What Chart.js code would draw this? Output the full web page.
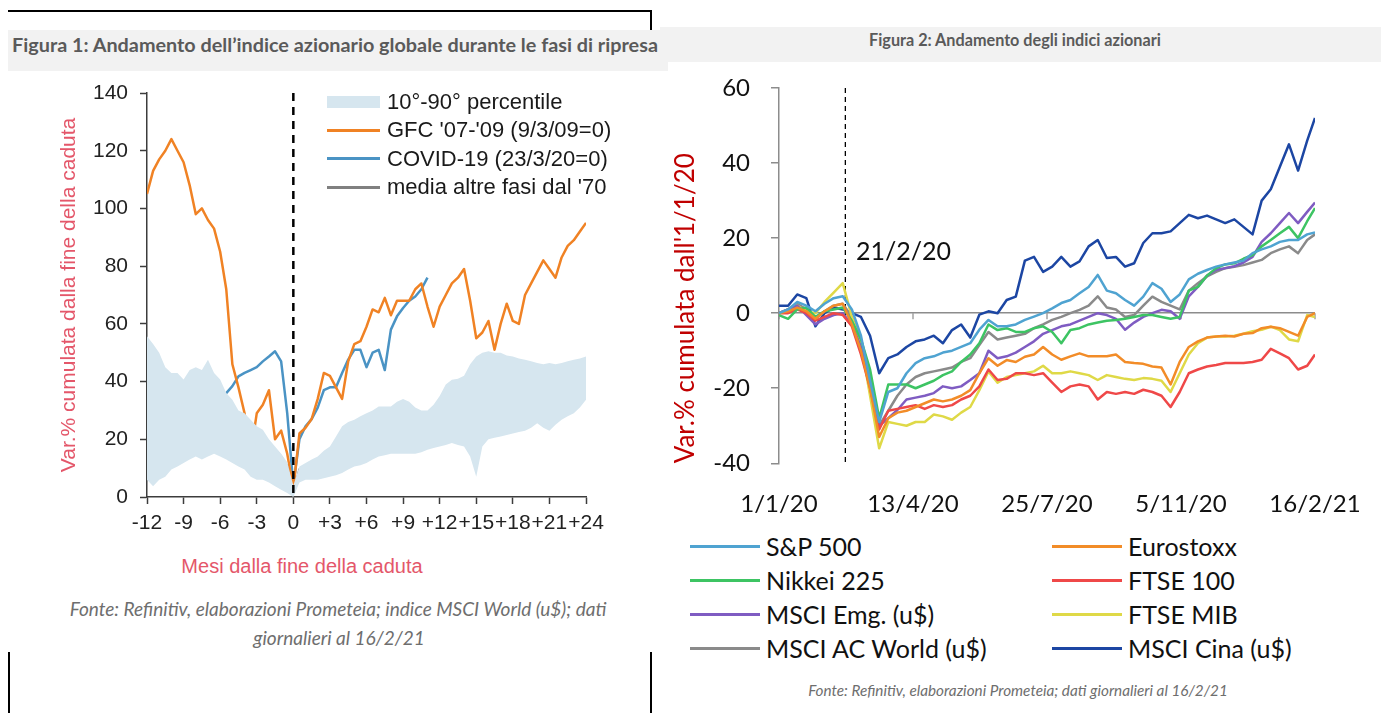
<!DOCTYPE html>
<html lang="it">
<head>
<meta charset="utf-8">
<title>Indici azionari</title>
<script src="https://cdn.jsdelivr.net/npm/chart.js@4.4.1/dist/chart.umd.min.js"></script>
<style>
  html, body { margin: 0; padding: 0; background: #fff; }
  body { width: 1381px; height: 713px; position: relative; overflow: hidden; font-family: 'Liberation Sans', Arial, sans-serif; }
  canvas { position: absolute; }
  .rule { position: absolute; background: #000; }
  .box { position: absolute; background: #f2f2f2; }
  .ctext { position: absolute; white-space: nowrap; transform: translate(-50%, -50%); }
  .ftitle { font-family: Lato, sans-serif; font-weight: 700; color: #5a5a5a; }
  .foot { font-family: Lato, sans-serif; font-style: italic; color: #6e6e6e; }
  .leg { position: absolute; display: flex; align-items: center; white-space: nowrap; transform: translateY(-50%); }
  .leg i { display: inline-block; flex: none; }
  #leftLegend .leg { font-family: 'Liberation Sans', Arial, sans-serif; font-size: 22px; color: #1a1a1a; }
  #rightLegend .leg { font-family: Lato, sans-serif; font-size: 25px; color: #111; }
</style>
</head>
<body>

<div class="rule" style="left:8px;top:10px;width:644px;height:2px"></div>
<div class="rule" style="left:650px;top:10px;width:2px;height:21px"></div>
<div class="rule" style="left:8px;top:652px;width:2px;height:61px"></div>
<div class="rule" style="left:650px;top:652px;width:2px;height:61px"></div>

<div class="box" style="left:660px;top:27px;width:721px;height:35px"></div>
<div class="box" style="left:8px;top:30px;width:660px;height:41px"></div>

<div id="title1" class="ctext ftitle" style="left:335px;top:44px;font-size:16px">Figura 1: Andamento dell’indice azionario globale durante le fasi di ripresa</div>
<div id="title2" class="ctext ftitle" style="left:1015px;top:39px;font-size:12px">Figura 2: Andamento degli indici azionari</div>

<canvas id="chart1" width="606" height="460" style="left:0;top:80px"></canvas>
<canvas id="chart2" width="700" height="460" style="left:660px;top:70px"></canvas>

<div id="leftLegend"></div>
<div id="rightLegend"></div>

<div class="ctext" style="left:302px;top:566px;font-size:20px;color:#e4576a">Mesi dalla fine della caduta</div>
<div class="ctext" style="left:856px;top:250px;transform:translate(0,-50%);font-family:Lato,sans-serif;font-size:25px;color:#111">21/2/20</div>

<div id="foot1a" class="ctext foot" style="left:338px;top:608px;font-size:15px">Fonte: Refinitiv, elaborazioni Prometeia; indice MSCI World (u$); dati</div>
<div id="foot1b" class="ctext foot" style="left:339px;top:637px;font-size:15px">giornalieri al 16/2/21</div>
<div id="foot2" class="ctext foot" style="left:1018px;top:690px;font-size:12px">Fonte: Refinitiv, elaborazioni Prometeia; dati giornalieri al 16/2/21</div>

<script>
// ---- Figura 1: mesi dalla fine della caduta ----
const months = [-12,-11.5,-11,-10.5,-10,-9.5,-9,-8.5,-8,-7.5,-7,-6.5,-6,-5.5,-5,-4.5,-4,-3.5,-3,-2.5,-2,-1.5,-1,-0.5,0,
  0.5,1,1.5,2,2.5,3,3.5,4,4.5,5,5.5,6,6.5,7,7.5,8,8.5,9,9.5,10,10.5,11,11.5,12,
  12.5,13,13.5,14,14.5,15,15.5,16,16.5,17,17.5,18,18.5,19,19.5,20,20.5,21,21.5,22,22.5,23,23.5,24];

const gfc = [105,113,117,120,124,120,116,108,98,100,96,93,85,72,46,38,29,15,29,32,37,20,23,15,3,
  22,24,27,34,43,42,38,34,47,53,54,59,65,64,69,63,68,68,68,72,74,66,59,66,
  70,74,76,79,68,55,57,61,51,60,67,61,60,70,74,78,82,79,76,83,87,89,92,95];

const covid = [34,35,35.5,32.6,29,35,37,38,35.5,30,34,36,34,36,38.4,41.8,43,44,45,47,48.7,50.5,47,29,4,
  20,24.5,27,31,37,38,38,43,47.6,51,51,45,50,51,44,58,62.6,65.5,68,69.5,72,76,null,null,
  null,null,null,null,null,null,null,null,null,null,null,null,null,null,null,null,null,null,null,null,null,null,null,null];

const media = [28,27.4,24.5,24.5,26.8,25.6,25,26.8,28,26.8,25.6,24.5,25,24.5,25.6,24.5,23.3,21.6,20.4,19.3,18,16.4,14,10.6,1.4,
  9.5,10,10.6,10.6,10.6,11.8,13,15,17,18.7,20,20.4,21.6,22,22.8,23.3,22.8,22.8,22,22,22.8,22,24,25.5,
  28,30,31,31,28.5,27,31,33,34,33,34,34,34.5,34,34.5,35,36.6,37,37,38,36.6,38,39,43];

const bandHigh = [55.7,53,50,45,43,43,40.7,44,45,44,47.6,43,40.7,36,33.7,30,29,26.8,24.5,23.3,20,17.5,15,12,4,
  10.6,11.8,13,14,16,17.5,21,24.5,26,26.8,28,29,30,31.4,31.4,31.4,33,34,33,31,30,30,32,35,
  39,40.6,41,42,46,48.7,50,50.5,50,50,49,48.7,48,47.6,47,46.4,46,46.4,46,46.4,47,47.6,48,48.7];

const bandLow = [6,3.7,6,7,9.5,10.6,11.8,13,14,13,14,15,14,13,11.8,10.6,9.5,7,6,6,5,3.7,2.5,1.4,0,
  5,6,6,6,6.5,7,7.5,8.3,9.5,10.6,11,11.8,13,14,14.5,15,15,15,15,15,15.5,16.4,17,17.5,
  18,18.7,18,17.5,14,7,17.5,20,20.5,21,21.5,22,22.5,23,24,25.6,24,23,25,26.8,28,29,31,33.7];

const leftLabels = ['10°-90° percentile', "GFC '07-'09 (9/3/09=0)", 'COVID-19 (23/3/20=0)', "media altre fasi dal '70"];
const leftColors = ['#d6e6ef', '#f08224', '#4a93c4', '#808080'];

// ---- Figura 2: giorni dall'1/1/20 ----
const days = [0,7,14,21,28,35,42,49,56,63,70,77,84,91,98,105,112,119,126,133,140,147,154,161,168,175,182,189,196,203,
  210,217,224,231,238,245,252,259,266,273,280,287,294,301,308,315,322,329,336,343,350,357,364,371,378,385,392,399,406,412];
const dateTickDays = [0, 103, 206, 309, 412];
const dateTickLabels = ['1/1/20', '13/4/20', '25/7/20', '5/11/20', '16/2/21'];
const markerDay = 51; // 21/2/20

const sp500 = [0,1,3,2,0.5,2.5,4,4.5,1,-6, -18,-29,-21,-20,-16,-13.3,-12,-11.5,-10.5,-10,
  -9,-8,-4.4,-1.8,-3.5,-3.5,-3,-1.8,-0.9,0, 1.3,2.7,3.5,5.3,7,10.2,6,5.3,3.5,2,
  4.4,8,6.5,3,5,9,10.5,11.5,12.4,13, 13.5,14,16,17,17.8,19,19.5,19.5,21,21.5];
const nikkei = [-0.5,-1.5,1,1.5,-1,0.5,1,1.5,-2,-7, -15,-28,-19,-19,-19,-20,-19,-18,-16.5,-15.5,
  -13,-11,-8,-3,-4.5,-4,-5,-5,-4,-3.5, -5,-8,-4.5,-4,-3,-2.5,-2,-1.8,-1.5,-1,
  -0.5,-0.5,-1,-1.5,-1,6,7,10,12,13, 13.3,14.5,15.5,17.8,19.5,21.3,23,20,24.5,28];
const msciEm = [0,1,2,-0.5,-3,-1.5,-0.5,0,-3,-9, -18,-30,-28,-25.8,-23,-22.5,-22,-21.3,-19.5,-20,
  -19.5,-17.8,-16,-10,-12,-11.5,-10.5,-9,-7.5,-5.5, -4.5,-3.5,-3,-2,-1,0,-0.5,-1.5,-4.4,-2.5,
  -1,0,0.9,0.5,-1.5,4.5,7,10,11.6,12, 12.5,13.5,15,19,21.3,24,26.7,24,27,29.5];
const msciAcwi = [0,1,2.5,1,-1.5,0.5,2,2.5,-1,-7, -17,-30,-26,-22,-19,-17,-16,-15.5,-15,-14.5,
  -13,-12,-8.5,-5,-7,-6.5,-6,-5.5,-4,-3, -1.8,-1,0,0.9,2,4.5,1.5,1,-1,-0.5,
  2,4.4,3,2,1,6,8,9.8,11,12, 12.4,12.8,13.5,14.2,16,17,17.8,16,19.5,21];
const eurostoxx = [0,0.5,1.5,0.5,-1.5,0.5,2,2.5,-3,-10, -20,-33,-28,-26.5,-26,-25,-24,-23,-23.5,-23,
  -22,-20.5,-16,-12,-14,-12.5,-13,-11.6,-11,-9, -11,-12.4,-11.5,-10.7,-11.5,-11.5,-11.5,-11,-13,-13.3,
  -13.5,-14.2,-14.5,-19,-13,-9,-7.5,-6.5,-6.2,-6, -6.2,-5.5,-5.3,-4,-3.6,-4,-5,-6,-1,0];
const ftse100 = [0,0,1,0,-2,-1,0,-0.5,-3.5,-11, -20,-31,-26,-25.5,-25,-24.5,-25.5,-24.5,-25,-24.5,
  -23,-22,-19.5,-15,-17.8,-17.5,-16,-16,-16.5,-16, -18.5,-21,-19.5,-19,-19.5,-23,-21,-21.5,-21,-21.5,
  -20.4,-21,-22,-25,-21,-16,-15,-14.2,-13.8,-13.3, -13.3,-13.3,-13,-12.4,-9.5,-10.7,-12,-15,-14,-11];
const ftseMib = [0,1,2,0.5,0,3,5.5,8,-1,-8, -22,-36,-29,-29.5,-30,-29,-29,-27,-27.5,-28.4,
  -26.5,-25,-20.5,-15.5,-18.5,-17,-16.5,-16,-15.5,-14, -16,-16,-15.5,-16,-16.5,-17.8,-16.5,-17,-17.5,-17.8,
  -17.3,-17.5,-18,-21,-16,-11,-8,-6.5,-6.2,-6.2, -6,-5.5,-4.8,-4.4,-3.6,-4.5,-7,-7.5,-0.5,-1];
const msciChina = [2,2,5,4,-3.5,0,1.5,1,0,-1, -6,-16,-12,-11,-9,-7.5,-7,-6,-8,-4.5,
  -3,-6.5,-0.4,0.5,0,3.5,4.4,14,15,11, 12.4,15,12.4,13.8,17.8,19.5,14.7,15,12.4,13.3,
  18.7,21.3,21.3,21.8,24,26.2,25.3,26,25,24, 25,23,21,30,33,39,45,38,46,52];

const rightNames = ['S&P 500', 'Eurostoxx', 'Nikkei 225', 'FTSE 100', 'MSCI Emg. (u$)', 'FTSE MIB', 'MSCI AC World (u$)', 'MSCI Cina (u$)'];
const rightSeries = [sp500, eurostoxx, nikkei, ftse100, msciEm, ftseMib, msciAcwi, msciChina];
const rightColors = ['#4fa3d1', '#f28c28', '#3dc463', '#ef4848', '#7f5cc2', '#dfd947', '#8a8a8a', '#1c46a3'];

// linea tratteggiata verticale su un valore dell'asse x
function markerLine(id, value, width, dash, when) {
  const draw = function (chart) {
    const { ctx, chartArea, scales } = chart;
    const x = scales.x.getPixelForValue(value);
    ctx.save();
    ctx.strokeStyle = '#000';
    ctx.lineWidth = width;
    ctx.setLineDash(dash);
    ctx.beginPath();
    ctx.moveTo(x, chartArea.top);
    ctx.lineTo(x, chartArea.bottom);
    ctx.stroke();
    ctx.restore();
  };
  const p = { id: id };
  p[when] = draw;
  return p;
}

// tacche dell'asse x sulla linea dello zero (stile Excel)
const zeroTicks = {
  id: 'zeroTicks',
  beforeDatasetsDraw(chart) {
    const { ctx, scales } = chart;
    const y0 = scales.y.getPixelForValue(0);
    ctx.save();
    ctx.strokeStyle = '#8c8c8c';
    ctx.lineWidth = 1.2;
    scales.x.ticks.forEach(t => {
      const x = scales.x.getPixelForValue(t.value);
      ctx.beginPath();
      ctx.moveTo(x, y0);
      ctx.lineTo(x, y0 + 6);
      ctx.stroke();
    });
    ctx.restore();
  }
};

// larghezze fisse degli assi, senza il margine extra per le etichette
const fitY = w => s => { s.width = w; s.paddingTop = 0; s.paddingBottom = 0; };
const fitX = h => s => { s.height = h; s.paddingLeft = 0; s.paddingRight = 0; };

const pts = (xs, ys) => xs.map((x, i) => ({ x: x, y: ys[i] }));

const chart1 = new Chart(document.getElementById('chart1'), {
  type: 'line',
  data: {
    datasets: [
      { data: pts(months, bandHigh), borderWidth: 0, backgroundColor: leftColors[0], fill: '+1' },
      { data: pts(months, bandLow), borderWidth: 0, fill: false },
      { data: pts(months, gfc), borderColor: leftColors[1], borderWidth: 2.5, fill: false },
      { data: pts(months, covid), borderColor: leftColors[2], borderWidth: 2.5, fill: false },
      { data: pts(months, media), borderColor: leftColors[3], borderWidth: 2.5, fill: false }
    ]
  },
  options: {
    responsive: false,
    animation: false,
    events: [],
    layout: { padding: { top: 13, right: 20, left: 0, bottom: 0 } },
    elements: { point: { radius: 0 }, line: { tension: 0, borderJoinStyle: 'round' } },
    plugins: { legend: { display: false }, tooltip: { enabled: false } },
    scales: {
      x: {
        type: 'linear', min: -12, max: 24,
        afterFit: fitX(43),
        border: { display: true, color: '#3c3c3c', width: 1.5 },
        grid: { display: true, drawOnChartArea: false, drawTicks: true, tickLength: 7, tickColor: '#3c3c3c', tickWidth: 1.5 },
        ticks: {
          stepSize: 3, autoSkip: false, maxRotation: 0, padding: 7, color: '#222',
          font: { family: "'Liberation Sans', Arial", size: 21 },
          callback: v => (v > 0 ? '+' + v : String(v))
        }
      },
      y: {
        min: 0, max: 140,
        afterFit: fitY(147),
        border: { display: true, color: '#3c3c3c', width: 1.5 },
        grid: { display: true, drawOnChartArea: false, drawTicks: true, tickLength: 7, tickColor: '#3c3c3c', tickWidth: 1.5 },
        ticks: { stepSize: 20, padding: 12, color: '#222', font: { family: "'Liberation Sans', Arial", size: 21 } },
        title: {
          display: true, text: 'Var.% cumulata dalla fine della caduta', color: '#e4576a',
          font: { family: "'Liberation Sans', Arial", size: 21 }, padding: { top: 57, bottom: 0 }
        }
      }
    }
  },
  plugins: [markerLine('zeroLine', 0, 2.5, [8, 6], 'afterDatasetsDraw')]
});

const chart2 = new Chart(document.getElementById('chart2'), {
  type: 'line',
  data: {
    datasets: rightSeries.map((s, i) => ({
      label: rightNames[i], data: pts(days, s), borderColor: rightColors[i], borderWidth: 2.5, fill: false
    }))
  },
  options: {
    responsive: false,
    animation: false,
    events: [],
    layout: { padding: { top: 18, right: 45, left: 0, bottom: 0 } },
    elements: { point: { radius: 0 }, line: { tension: 0, borderJoinStyle: 'round' } },
    plugins: { legend: { display: false }, tooltip: { enabled: false } },
    scales: {
      x: {
        type: 'linear', min: 0, max: 412,
        afterFit: fitX(66.7),
        afterBuildTicks: s => { s.ticks = dateTickDays.map(v => ({ value: v })); },
        border: { display: false },
        grid: { display: false, drawTicks: false },
        ticks: {
          autoSkip: false, maxRotation: 0, padding: 27, color: '#111',
          font: { family: 'Lato', size: 24 },
          callback: v => dateTickLabels[dateTickDays.indexOf(v)]
        }
      },
      y: {
        min: -40, max: 60,
        afterFit: fitY(119),
        border: { display: true, color: '#8c8c8c', width: 1.5 },
        grid: {
          display: true, drawOnChartArea: true, drawTicks: true, tickLength: 8,
          tickColor: '#8c8c8c', lineWidth: 1.5,
          color: c => (c.tick && c.tick.value === 0 ? '#8c8c8c' : 'rgba(0,0,0,0)')
        },
        ticks: { stepSize: 20, padding: 21, color: '#111', font: { family: 'Lato', size: 24 } },
        title: {
          display: true, text: "Var.% cumulata dall'1/1/20", color: '#c00000', align: 'start',
          font: { family: 'Lato', size: 26 }, padding: { top: 10, bottom: 0 }
        }
      }
    }
  },
  plugins: [zeroTicks, markerLine('dayLine', markerDay, 1.3, [5, 4], 'beforeDatasetsDraw')]
});

// legenda figura 1
const leftRows = [101.5, 130, 158.5, 187];
const leftLegend = document.getElementById('leftLegend');
leftLabels.forEach((lab, i) => {
  const row = document.createElement('div');
  row.className = 'leg';
  row.style.left = '327px';
  row.style.top = leftRows[i] + 'px';
  const sw = document.createElement('i');
  sw.style.width = '53px';
  sw.style.height = i === 0 ? '12px' : '3px';
  sw.style.background = leftColors[i];
  sw.style.marginRight = '7px';
  row.appendChild(sw);
  row.appendChild(document.createTextNode(lab));
  leftLegend.appendChild(row);
});

// legenda figura 2, due colonne
const rightCols = [690, 1052];
const rightRows = [546, 580, 614, 648];
const rightLegend = document.getElementById('rightLegend');
rightNames.forEach((name, i) => {
  const row = document.createElement('div');
  row.className = 'leg';
  row.style.left = rightCols[i % 2] + 'px';
  row.style.top = rightRows[Math.floor(i / 2)] + 'px';
  const sw = document.createElement('i');
  sw.style.width = '70px';
  sw.style.height = '3px';
  sw.style.background = rightColors[i];
  sw.style.marginRight = '6px';
  row.appendChild(sw);
  row.appendChild(document.createTextNode(name));
  rightLegend.appendChild(row);
});

// adatta la dimensione dei testi alla larghezza del riferimento
function fitText(el, w) {
  const r = el.getBoundingClientRect().width;
  const fs = parseFloat(getComputedStyle(el).fontSize);
  const nfs = fs * w / r;
  el.style.fontSize = nfs + 'px';
  return nfs;
}
fitText(document.getElementById('title1'), 646);
fitText(document.getElementById('title2'), 292);
const f1 = fitText(document.getElementById('foot1a'), 537);
document.getElementById('foot1b').style.fontSize = f1 + 'px';
fitText(document.getElementById('foot2'), 420);
</script>
</body>
</html>
